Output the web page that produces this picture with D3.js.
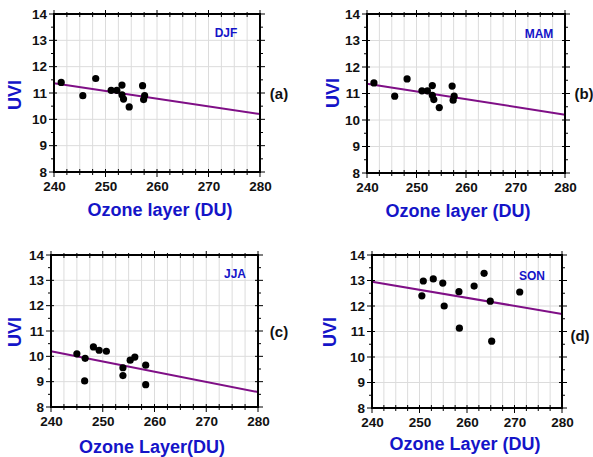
<!DOCTYPE html>
<html>
<head>
<meta charset="utf-8">
<script src="https://cdn.jsdelivr.net/npm/d3@7"></script>
<style>
  body { margin: 0; background: #fff; }
  text { font-family: "Liberation Sans", Arial, sans-serif; }
</style>
</head>
<body>
<div id="chart"></div>
<script>
/* Data */
const xTicks = [240, 250, 260, 270, 280];
const yTicks = [8, 9, 10, 11, 12, 13, 14];

const djfOzone = [241.4, 245.6, 248.1, 251.1, 252.2, 253.2, 253.2, 253.5, 254.6, 257.2, 257.6, 257.4];
const djfUvi   = [11.4, 10.9, 11.55, 11.1, 11.1, 11.3, 10.93, 10.77, 10.47, 11.28, 10.9, 10.75];
const djfTrend = [11.37, 10.2];

const mamOzone = [241.4, 245.6, 248.1, 251.1, 252.2, 253.2, 253.2, 253.5, 254.6, 257.2, 257.6, 257.4];
const mamUvi   = [11.4, 10.9, 11.55, 11.1, 11.1, 11.3, 10.93, 10.77, 10.47, 11.28, 10.9, 10.75];
const mamTrend = [11.37, 10.2];

const jjaOzone = [245.0, 246.6, 246.5, 248.2, 249.3, 250.7, 253.9, 253.9, 255.3, 256.2, 258.3, 258.3];
const jjaUvi   = [10.1, 9.92, 9.03, 10.37, 10.24, 10.2, 9.55, 9.24, 9.85, 9.97, 9.65, 8.88];
const jjaTrend = [10.2, 8.59];

const sonOzone = [250.5, 250.8, 252.9, 254.9, 255.2, 258.3, 258.4, 261.5, 263.6, 264.9, 265.2, 271.1];
const sonUvi   = [12.4, 12.98, 13.06, 12.9, 12.0, 12.56, 11.13, 12.78, 13.28, 12.19, 10.62, 12.55];
const sonTrend = [12.95, 11.69];

/* Panel layout */
const panels = [
  { ox: djfOzone, uv: djfUvi, trend: djfTrend, season: "DJF", tag: "(a)", xTitle: "Ozone layer (DU)",
    x0: 54, x1: 260, y0: 14, y1: 172, seasonX: 226, seasonY: 37, tagX: 279, tagY: 99,
    ytX: 15, ytY: 95, xtX: 160, xtY: 216 },
  { ox: mamOzone, uv: mamUvi, trend: mamTrend, season: "MAM", tag: "(b)", xTitle: "Ozone layer (DU)",
    x0: 367, x1: 565, y0: 14, y1: 173, seasonX: 539, seasonY: 38, tagX: 584, tagY: 99,
    ytX: 333, ytY: 93, xtX: 458, xtY: 217 },
  { ox: jjaOzone, uv: jjaUvi, trend: jjaTrend, season: "JJA", tag: "(c)", xTitle: "Ozone Layer(DU)",
    x0: 51, x1: 258, y0: 255, y1: 407, seasonX: 235, seasonY: 278, tagX: 279, tagY: 337,
    ytX: 15, ytY: 332, xtX: 152, xtY: 453 },
  { ox: sonOzone, uv: sonUvi, trend: sonTrend, season: "SON", tag: "(d)", xTitle: "Ozone Layer (DU)",
    x0: 372, x1: 562, y0: 255, y1: 408, seasonX: 532, seasonY: 280, tagX: 580, tagY: 341,
    ytX: 330, ytY: 332, xtX: 465, xtY: 450 }
];

const blue = "#1414c8";

const svg = d3.select("#chart").append("svg")
  .attr("width", 593)
  .attr("height", 457);

panels.forEach(function(p) {
  const x = d3.scaleLinear().domain([240, 280]).range([p.x0, p.x1]);
  const y = d3.scaleLinear().domain([8, 14]).range([p.y1, p.y0]);
  const g = svg.append("g");

  // grid
  g.selectAll(".vg").data(d3.range(242.5, 280, 2.5)).enter().append("line")
    .attr("x1", d => x(d)).attr("x2", d => x(d))
    .attr("y1", p.y0).attr("y2", p.y1)
    .attr("stroke", "#dcdcdc").attr("stroke-width", 1);
  g.selectAll(".hg").data(d3.range(9, 14, 1)).enter().append("line")
    .attr("x1", p.x0).attr("x2", p.x1)
    .attr("y1", d => y(d)).attr("y2", d => y(d))
    .attr("stroke", "#dcdcdc").attr("stroke-width", 1);

  // bottom axis
  const bottom = g.append("g").attr("transform", "translate(0," + p.y1 + ")")
    .call(d3.axisBottom(x).tickValues(xTicks).tickFormat(d3.format("d")).tickSize(0).tickPadding(9));
  bottom.select(".domain").remove();
  bottom.selectAll("text").attr("font-size", 13.5).attr("font-weight", "bold")
    .attr("font-family", "Liberation Sans, Arial, sans-serif").attr("fill", "#111");

  // left axis
  const left = g.append("g").attr("transform", "translate(" + p.x0 + ",0)")
    .call(d3.axisLeft(y).tickValues(yTicks).tickFormat(d3.format("d")).tickSize(0).tickPadding(7));
  left.select(".domain").remove();
  left.selectAll("text").attr("font-size", 13.5).attr("font-weight", "bold")
    .attr("font-family", "Liberation Sans, Arial, sans-serif").attr("fill", "#111");

  // tick marks on all four sides
  const tk = g.append("g").attr("stroke", "#000").attr("stroke-width", 1);
  d3.range(240, 280.1, 2.5).forEach(function(v) {
    const major = v % 10 === 0;
    tk.append("line").attr("x1", x(v)).attr("x2", x(v))
      .attr("y1", p.y1 - 3).attr("y2", p.y1 + (major ? 5 : 3));
    tk.append("line").attr("x1", x(v)).attr("x2", x(v))
      .attr("y1", p.y0 - (major ? 4 : 2)).attr("y2", p.y0 + 3);
  });
  d3.range(8, 14.01, 0.5).forEach(function(v) {
    const major = v % 1 === 0;
    tk.append("line").attr("x1", p.x0 - (major ? 5 : 3)).attr("x2", p.x0 + (major ? 3 : 0))
      .attr("y1", y(v)).attr("y2", y(v));
    tk.append("line").attr("x1", p.x1 - (major ? 3 : 0)).attr("x2", p.x1 + (major ? 5 : 3))
      .attr("y1", y(v)).attr("y2", y(v));
  });

  // regression line
  g.append("line")
    .attr("x1", x(240)).attr("y1", y(p.trend[0]))
    .attr("x2", x(280)).attr("y2", y(p.trend[1]))
    .attr("stroke", "#7f0f86").attr("stroke-width", 2);

  // points
  g.selectAll(".pt").data(p.ox).enter().append("circle")
    .attr("cx", d => x(d))
    .attr("cy", (d, i) => y(p.uv[i]))
    .attr("r", 3.6)
    .attr("fill", "#000");

  // frame
  g.append("rect")
    .attr("x", p.x0).attr("y", p.y0)
    .attr("width", p.x1 - p.x0).attr("height", p.y1 - p.y0)
    .attr("fill", "none").attr("stroke", "#000").attr("stroke-width", 2);

  // texts
  g.append("text").attr("x", p.seasonX).attr("y", p.seasonY)
    .attr("text-anchor", "middle").attr("font-size", 12).attr("font-weight", "bold")
    .attr("fill", blue).text(p.season);
  g.append("text").attr("x", p.tagX).attr("y", p.tagY)
    .attr("text-anchor", "middle").attr("font-size", 15).attr("font-weight", "bold")
    .attr("fill", "#111").text(p.tag);
  g.append("text")
    .attr("transform", "translate(" + (p.ytX + 6) + "," + p.ytY + ") rotate(-90)")
    .attr("text-anchor", "middle").attr("font-size", 18).attr("font-weight", "bold")
    .attr("fill", blue).text("UVI");
  g.append("text").attr("x", p.xtX).attr("y", p.xtY)
    .attr("text-anchor", "middle").attr("font-size", 18).attr("font-weight", "bold")
    .attr("fill", blue).text(p.xTitle);
});
</script>
</body>
</html>
